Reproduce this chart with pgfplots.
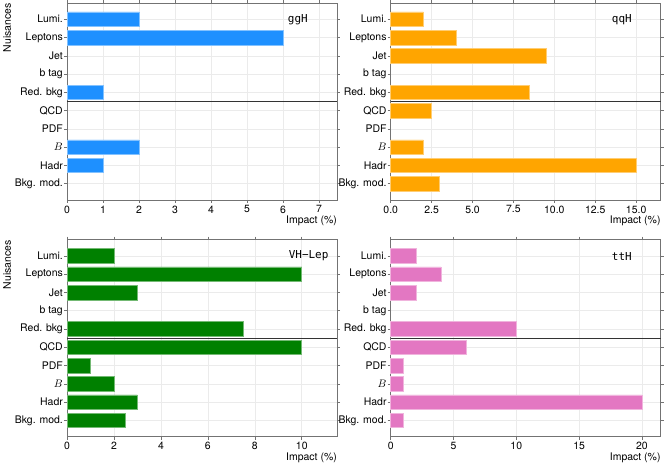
\documentclass[border=0pt]{standalone}
\usepackage{fontspec}
\setmainfont{TeX Gyre Heros}
\newfontfamily\mono{DejaVu Sans Mono}
\usepackage{pgfplots}
\pgfplotsset{compat=1.18}

\definecolor{cggH}{RGB}{30,144,255}
\definecolor{cqqH}{RGB}{255,165,0}
\definecolor{cVH}{RGB}{0,128,0}
\definecolor{cttH}{RGB}{227,119,194}

\pgfplotsset{
  impact/.style={
    scale only axis, width=270bp, height=197bp,
    anchor=south west,
    xbar, bar width=0.8,
    xmin=0, ymin=0.11, ymax=10.89,
    ytick={1,...,10},
    yticklabels={Bkg. mod., Hadr, $B$, PDF, QCD, Red. bkg, b tag, Jet, Leptons, Lumi.},
    grid=major, grid style={black!8, line width=0.6bp},
    axis line style={black!55, line width=0.8bp},
    tick align=outside, major tick length=3bp,
    tick style={black!55, line width=0.6bp},
    every tick label/.append style={font=\fontsize{10.5}{12}\selectfont},
    yticklabel style={inner sep=1bp},
    xticklabel style={inner sep=2.5bp},
    /pgf/number format/assume math mode=true,
    clip=false,
  },
}

\newcommand{\sepline}{\draw[black!80, line width=0.9bp] ({rel axis cs:0,0}|-{axis cs:0,5.5}) -- ({rel axis cs:1,0}|-{axis cs:0,5.5});}
\newcommand{\xlab}{\node[anchor=north east, inner sep=0pt, font=\fontsize{10.5}{12}\selectfont] at ([yshift=-16bp]rel axis cs:1,0) {Impact (\%)};}

\begin{document}
\begin{tikzpicture}[font=\fontsize{10.5}{12}\selectfont]
\path[use as bounding box] (0,0) rectangle (664bp,467bp);

% ggH
\begin{axis}[impact, at={(67bp,267bp)}, xmax=7.5, xtick={0,...,7}]
\addplot[fill=cggH, draw=cggH!55!white, line width=0.6bp] coordinates {
  (2,10) (6,9) (1,6) (2,3) (1,2)
};
\sepline
\xlab
\node[font=\mono\fontsize{11}{12}\selectfont] at (rel axis cs:0.855,0.914) {ggH};
\end{axis}

% qqH
\begin{axis}[impact, at={(390.7bp,267bp)}, xmax=16.5, xtick={0,2.5,...,15},
  xticklabel style={/pgf/number format/fixed, /pgf/number format/fixed zerofill, /pgf/number format/precision=1}]
\addplot[fill=cqqH, draw=cqqH!55!white, line width=0.6bp] coordinates {
  (2,10) (4,9) (9.5,8) (8.5,6) (2.5,5) (2,3) (15,2) (3,1)
};
\sepline
\xlab
\node[font=\mono\fontsize{11}{12}\selectfont] at (rel axis cs:0.856,0.914) {qqH};
\end{axis}

% VH-Lep
\begin{axis}[impact, at={(67bp,30.3bp)}, xmax=11.5, xtick={0,2,...,10}]
\addplot[fill=cVH, draw=cVH!55!white, line width=0.6bp] coordinates {
  (2,10) (10,9) (3,8) (7.5,6) (10,5) (1,4) (2,3) (3,2) (2.5,1)
};
\sepline
\xlab
\node[font=\mono\fontsize{11}{12}\selectfont] at (rel axis cs:0.895,0.917) {VH−Lep};
\end{axis}

% ttH
\begin{axis}[impact, at={(390.7bp,30.3bp)}, xmax=21.5, xtick={0,5,...,20}]
\addplot[fill=cttH, draw=cttH!55!white, line width=0.6bp] coordinates {
  (2,10) (4,9) (2,8) (10,6) (6,5) (1,4) (1,3) (20,2) (1,1)
};
\sepline
\xlab
\node[font=\mono\fontsize{11}{12}\selectfont] at (rel axis cs:0.856,0.917) {ttH};
\end{axis}

\node[rotate=90, anchor=north east, inner sep=0pt] at (3bp,464bp) {Nuisances};
\node[rotate=90, anchor=north east, inner sep=0pt] at (3bp,227bp) {Nuisances};
\end{tikzpicture}
\end{document}
